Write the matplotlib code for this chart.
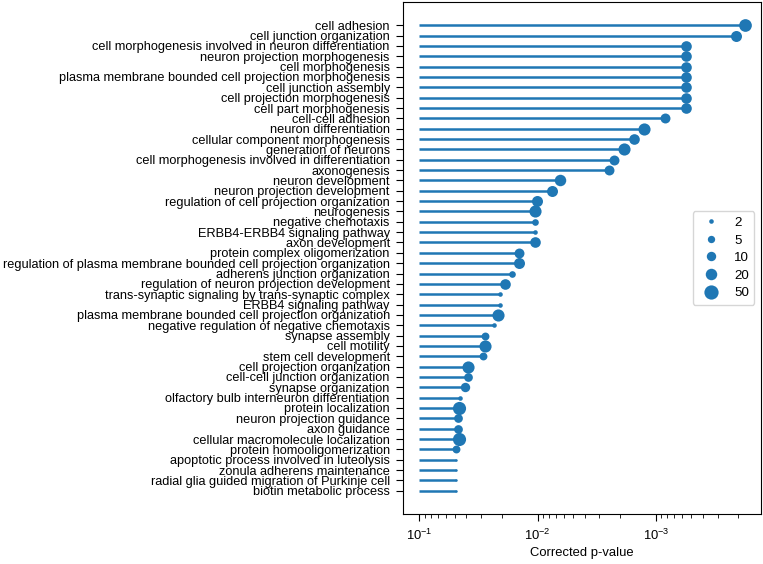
import numpy as np
import matplotlib
matplotlib.use("Agg")
import matplotlib.pyplot as plt
from matplotlib.lines import Line2D

plt.rcParams['font.family'] = ['Liberation Sans', 'DejaVu Sans']
plt.rcParams['font.size'] = 9.2

# GO terms, top to bottom
terms = [
    "cell adhesion",
    "cell junction organization",
    "cell morphogenesis involved in neuron differentiation",
    "neuron projection morphogenesis",
    "cell morphogenesis",
    "plasma membrane bounded cell projection morphogenesis",
    "cell junction assembly",
    "cell projection morphogenesis",
    "cell part morphogenesis",
    "cell-cell adhesion",
    "neuron differentiation",
    "cellular component morphogenesis",
    "generation of neurons",
    "cell morphogenesis involved in differentiation",
    "axonogenesis",
    "neuron development",
    "neuron projection development",
    "regulation of cell projection organization",
    "neurogenesis",
    "negative chemotaxis",
    "ERBB4-ERBB4 signaling pathway",
    "axon development",
    "protein complex oligomerization",
    "regulation of plasma membrane bounded cell projection organization",
    "adherens junction organization",
    "regulation of neuron projection development",
    "trans-synaptic signaling by trans-synaptic complex",
    "ERBB4 signaling pathway",
    "plasma membrane bounded cell projection organization",
    "negative regulation of negative chemotaxis",
    "synapse assembly",
    "cell motility",
    "stem cell development",
    "cell projection organization",
    "cell-cell junction organization",
    "synapse organization",
    "olfactory bulb interneuron differentiation",
    "protein localization",
    "neuron projection guidance",
    "axon guidance",
    "cellular macromolecule localization",
    "protein homooligomerization",
    "apoptotic process involved in luteolysis",
    "zonula adherens maintenance",
    "radial glia guided migration of Purkinje cell",
    "biotin metabolic process",
]

pvals = [
    1.77e-4, 2.08e-4, 5.6e-4, 5.6e-4, 5.6e-4, 5.6e-4, 5.6e-4, 5.6e-4, 5.6e-4,
    8.3e-4, 1.26e-3, 1.53e-3, 1.85e-3, 2.26e-3, 2.49e-3, 6.5e-3, 7.5e-3,
    1.02e-2, 1.05e-2, 1.05e-2, 1.05e-2, 1.05e-2, 1.43e-2, 1.43e-2, 1.64e-2,
    1.88e-2, 2.07e-2, 2.07e-2, 2.18e-2, 2.33e-2, 2.79e-2, 2.79e-2, 2.87e-2,
    3.86e-2, 3.85e-2, 4.09e-2, 4.5e-2, 4.6e-2, 4.69e-2, 4.69e-2, 4.65e-2,
    4.87e-2, 4.9e-2, 4.9e-2, 4.9e-2, 4.9e-2,
]

counts = [
    30, 17, 15, 15, 15, 15, 15, 15, 15,
    12, 25, 15, 25, 12, 12, 20, 17,
    17, 25, 4, 2, 15, 12, 17, 4,
    15, 2, 2, 25, 2, 6, 25, 6,
    25, 8, 10, 2, 35, 8, 8, 35,
    6, 1, 1, 1, 1,
]

legend_counts = [2, 5, 10, 20, 50]


def marker_pt(n):
    # diameter in points, grows with log of the gene count
    return (2.5 + 3.0 * np.log(n)) * 72 / 100


fig = plt.figure(figsize=(7.63, 5.64), dpi=100)
ax = fig.add_axes([403 / 763, 50 / 564, 358 / 763, 512 / 564])

y = np.arange(len(terms))
col = "#1f77b4"
ax.hlines(y, 0.1, pvals, color=col, lw=1.8)
for yi, p, n in zip(y, pvals, counts):
    ax.plot(p, yi, "o", color=col, ms=marker_pt(n), mew=0)

ax.set_xscale("log")
ax.invert_xaxis()
ax.set_yticks(y)
ax.set_yticklabels(terms)
ax.invert_yaxis()
ax.set_xlabel("Corrected p-value", labelpad=3, fontsize=9.4)
ax.tick_params(which="major", length=5, pad=4.5)
ax.tick_params(axis="x", which="major", pad=5, labelsize=9.4)
ax.tick_params(which="minor", length=3)

handles = [Line2D([], [], ls="", marker="o", color=col, mew=0, ms=marker_pt(n))
           for n in legend_counts]
ax.legend(handles, [str(n) for n in legend_counts], loc="center right",
          fontsize=9.6, labelspacing=0.4, handletextpad=0.7)

fig.savefig("out.png", dpi=100)
